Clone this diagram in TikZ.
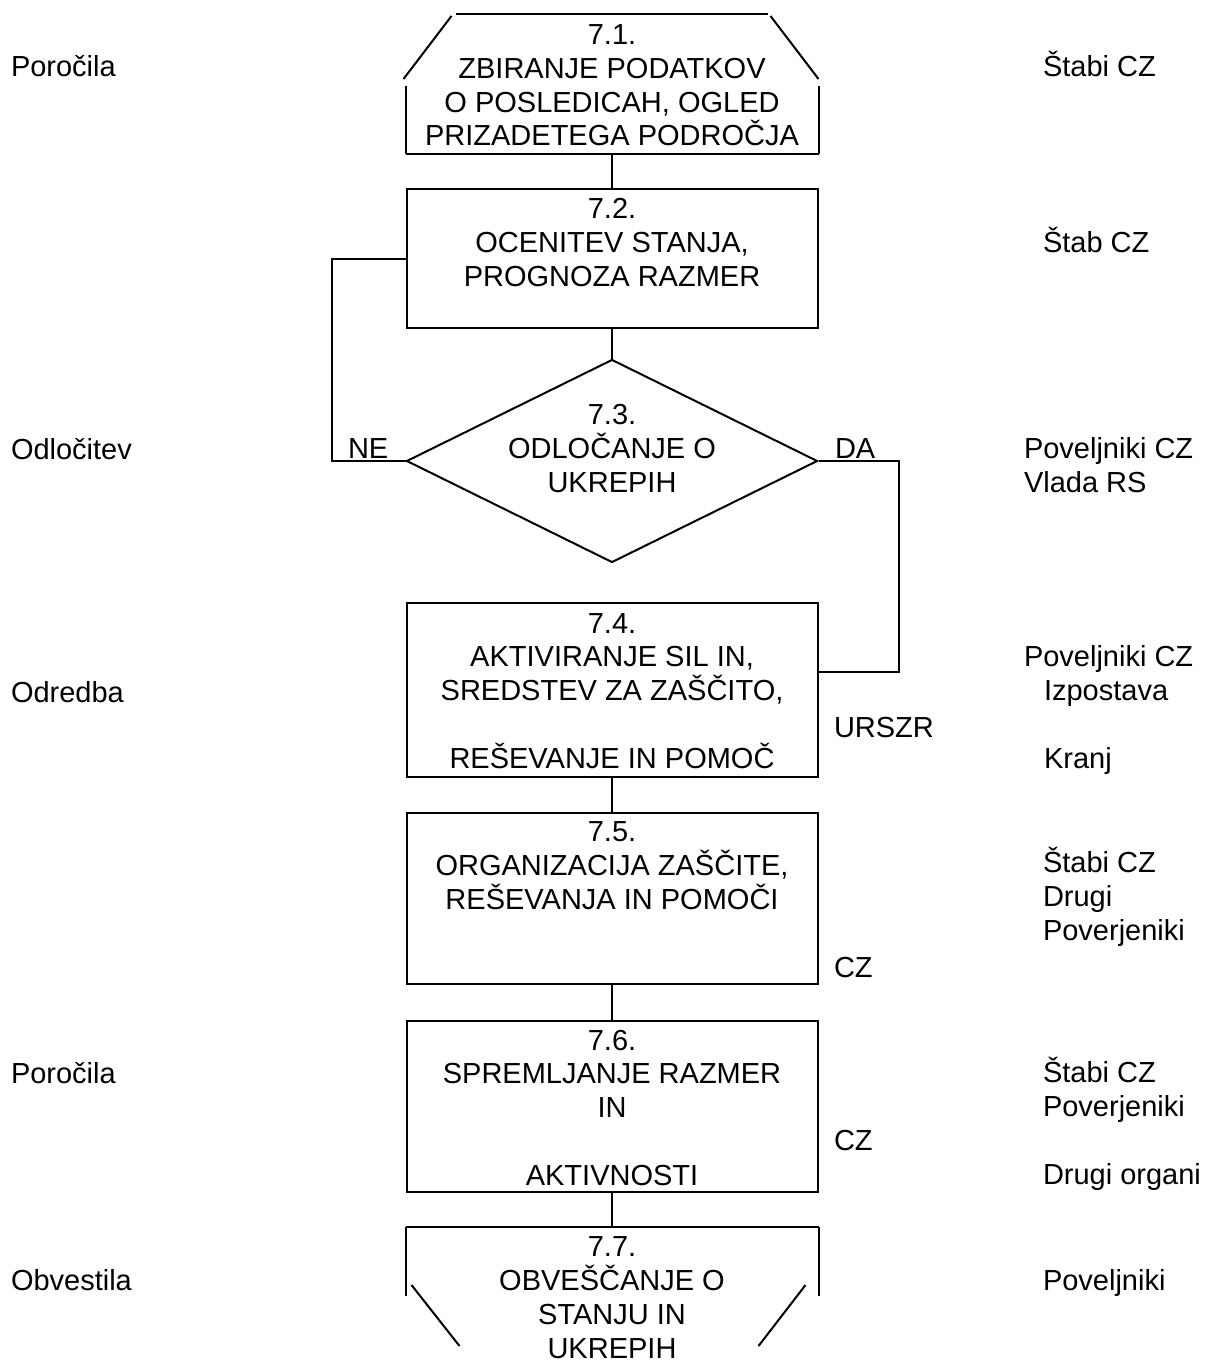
\documentclass[tikz,border=0pt]{standalone}
\usepackage{fontspec}
\setmainfont{Liberation Sans}
\usetikzlibrary{shapes.geometric}

\begin{document}
\begin{tikzpicture}[
    x=1pt, y=-1pt, line width=2pt,
    step node/.style={draw, minimum width=411pt, inner xsep=0pt, inner ysep=0pt,
      align=center, anchor=base, font=\fontsize{29}{33.7}\selectfont},
    decision node/.style={diamond, draw, minimum width=411pt, minimum height=203pt, inner sep=0pt},
    inner text/.style={align=center, anchor=base, inner sep=0pt, font=\fontsize{29}{33.7}\selectfont},
    side label/.style={align=left, anchor=base west, inner sep=0pt, font=\fontsize{29}{33.7}\selectfont},
    ]
  \useasboundingbox (0,0) rectangle (1205,1364);

  % flow steps (anchored at the baseline of the last line)
  \node[step node, draw=none, text height=131pt, text depth=7pt] (b71) at (612,146)
    {7.1.\\ZBIRANJE PODATKOV\\O POSLEDICAH, OGLED\\PRIZADETEGA PODROČJA};
  \node[step node, text height=97pt, text depth=42pt] (b72) at (612,286)
    {7.2.\\OCENITEV STANJA,\\PROGNOZA RAZMER};
  \node[decision node] (d73) at (612,461) {};
  \node[inner text] (t73) at (612,492) {7.3.\\ODLOČANJE O\\UKREPIH};
  \node[step node, text height=165pt, text depth=9pt] (b74) at (612,768)
    {7.4.\\AKTIVIRANJE SIL IN,\\SREDSTEV ZA ZAŠČITO,\\ \\REŠEVANJE IN POMOČ};
  \node[step node, text height=96pt, text depth=75pt] (b75) at (612,909)
    {7.5.\\ORGANIZACIJA ZAŠČITE,\\REŠEVANJA IN POMOČI};
  \node[step node, text height=164pt, text depth=7pt] (b76) at (612,1185)
    {7.6.\\SPREMLJANJE RAZMER\\IN\\ \\AKTIVNOSTI};
  \node[step node, draw=none, text height=130pt, text depth=4pt] (b77) at (612,1358)
    {7.7.\\OBVEŠČANJE O\\STANJU IN\\UKREPIH};

  % outline of 7.1
  \draw (b71.south west) -- (b71.south east);
  \draw (b71.south west) -- ([shift={(0,-68)}]b71.south west);
  \draw (b71.south east) -- ([shift={(0,-68)}]b71.south east);
  \draw ([shift={(-2,65)}]b71.north west) -- ([shift={(46,2)}]b71.north west);
  \draw ([shift={(50,0)}]b71.north west) -- ([shift={(-51,0)}]b71.north east);
  \draw ([shift={(-48,2)}]b71.north east) -- ([shift={(0,65)}]b71.north east);

  % outline of 7.7
  \draw (b77.north west) -- (b77.north east);
  \draw (b77.north west) -- ([shift={(0,69)}]b77.north west);
  \draw (b77.north east) -- ([shift={(0,69)}]b77.north east);
  \draw ([shift={(6,58)}]b77.north west) -- ([shift={(54,119)}]b77.north west);
  \draw ([shift={(-13,58)}]b77.north east) -- ([shift={(-60,119)}]b77.north east);

  % connections
  \draw (b71.south) -- (b72.north);
  \draw (b72.south) -- (d73.north);
  \draw (b74.south) -- (b75.north);
  \draw (b75.south) -- (b76.north);
  \draw (b76.south) -- (b77.north);

  \coordinate (ne bend) at (332,461);
  \coordinate (da bend) at (899,461);
  \draw (d73.west) -- (ne bend) |- (b72.west);
  \draw (d73.east) -- (da bend) |- ([yshift=-70pt]b74.north east);

  \node[side label] (ne) at (347,458) {NE};
  \node[side label] (da) at (834,458) {DA};
  \node[side label] (urszr) at (833,737) {URSZR};
  \node[side label] (cz5) at (833,977) {CZ};
  \node[side label] (cz6) at (833,1150) {CZ};

  % left column
  \node[side label] (in71) at (10,77) {Poročila};
  \node[side label] (in73) at (10,459) {Odločitev};
  \node[side label] (in74) at (10,702) {Odredba};
  \node[side label] (in76) at (10,1083) {Poročila};
  \node[side label] (in77) at (10,1290) {Obvestila};

  % right column
  \node[side label] (who71) at (1042,77) {Štabi CZ};
  \node[side label] (who72) at (1042,252) {Štab CZ};
  \node[side label] (who73) at (1023,492) {Poveljniki CZ\\Vlada RS};
  \node[side label] (who74) at (1023,768)
    {Poveljniki CZ\\\hspace*{20pt}Izpostava\\ \\\hspace*{20pt}Kranj};
  \node[side label] (who75) at (1042,940) {Štabi CZ\\Drugi\\Poverjeniki};
  \node[side label] (who76) at (1042,1184) {Štabi CZ\\Poverjeniki\\ \\Drugi organi};
  \node[side label] (who77) at (1042,1290) {Poveljniki};
\end{tikzpicture}
\end{document}
